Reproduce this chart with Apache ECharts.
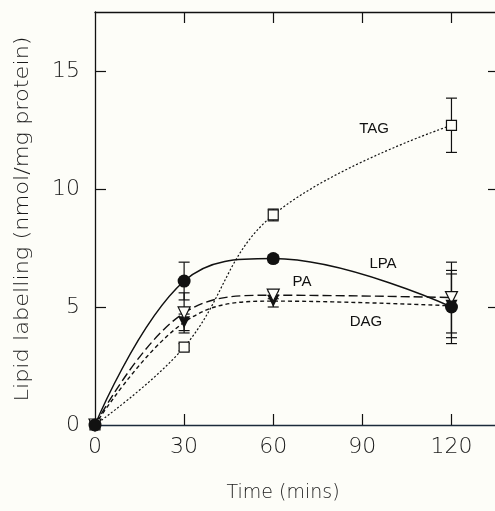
<!DOCTYPE html>
<html>
<head>
<meta charset="utf-8">
<script src="https://cdn.jsdelivr.net/npm/echarts@6/dist/echarts.min.js"></script>
<style>
  html, body { margin: 0; padding: 0; background: #fdfdf8; }
  #chart { width: 495px; height: 511px; }
</style>
</head>
<body>
<div id="chart"></div>
<script>
// Time course of lipid labelling (mean ± error) for four lipid classes
const times = [0, 30, 60, 120];
const lpa = [0, 6.1, 7.05, 5.0];
const lpaErr = [0, 0.8, 0.15, 1.55];
const pa = [0, 4.75, 5.5, 5.4];
const paErr = [0, 0.85, 0.15, 1.5];
const dag = [0, 4.35, 5.25, 5.05];
const dagErr = [0, 0.35, 0.25, 1.35];
const tag = [0, 3.3, 8.9, 12.7];
const tagErr = [0, 0.15, 0.25, 1.15];
const xTicks = [0, 30, 60, 90, 120];
const yTicks = [0, 5, 10, 15];

const FONT = 'DejaVu Sans';
const INK = '#111';
const PAPER = '#fdfdf8';

function pairs(ys) {
  return times.map((t, i) => [t, ys[i]]);
}
function errRows(ys, es) {
  return times.map((t, i) => [t, ys[i] - es[i], ys[i] + es[i]]).filter(r => r[2] > r[1]);
}

function renderErr(params, api) {
  const x = api.value(0);
  const lo = api.coord([x, api.value(1)]);
  const hi = api.coord([x, api.value(2)]);
  const w = 5.5;
  const style = { stroke: INK, lineWidth: 1.2 };
  return {
    type: 'group',
    children: [
      { type: 'line', shape: { x1: lo[0], y1: lo[1], x2: hi[0], y2: hi[1] }, style },
      { type: 'line', shape: { x1: lo[0] - w, y1: lo[1], x2: lo[0] + w, y2: lo[1] }, style },
      { type: 'line', shape: { x1: hi[0] - w, y1: hi[1], x2: hi[0] + w, y2: hi[1] }, style }
    ]
  };
}

function errSeries(ys, es) {
  return {
    type: 'custom',
    renderItem: renderErr,
    data: errRows(ys, es),
    encode: { x: 0, y: [1, 2] },
    z: 1,
    silent: true
  };
}

function lineSeries(name, ys, lineType, width, symbol, size, filled, rotate) {
  return {
    name,
    type: 'line',
    data: pairs(ys),
    smooth: 0.4,
    symbol,
    symbolSize: size,
    symbolRotate: rotate || 0,
    showAllSymbol: true,
    z: 3,
    lineStyle: { color: INK, width, type: lineType },
    itemStyle: {
      color: filled ? INK : PAPER,
      borderColor: INK,
      borderWidth: filled ? 0 : 1.2
    },
    emphasis: { disabled: true }
  };
}

const chart = echarts.init(document.getElementById('chart'), null, { renderer: 'canvas' });

const axisLineStyle = { color: INK, width: 1.3 };
const tickStyle = { color: INK, width: 1.2 };
const tickFont = { color: '#1a1a1a', fontFamily: FONT, fontSize: 22, fontWeight: 300 };

const labelFont = '15px "Liberation Sans"';

chart.setOption({
  backgroundColor: PAPER,
  animation: false,
  // the right-hand frame sits just past the canvas edge
  grid: { left: 95, top: 12, width: 404, height: 413, outerBoundsMode: 'none' },
  xAxis: [
    {
      type: 'value', min: 0, max: 136, position: 'bottom',
      axisLine: { show: true, onZero: false, lineStyle: { color: '#1b2a3a', width: 1.4 } },
      axisTick: { show: true, inside: true, length: 11, customValues: xTicks.slice(1), lineStyle: tickStyle },
      axisLabel: Object.assign({ customValues: xTicks, margin: 11 }, tickFont),
      splitLine: { show: false }
    },
    {
      type: 'value', min: 0, max: 136, position: 'top',
      axisLine: { show: true, onZero: false, lineStyle: axisLineStyle },
      axisTick: { show: true, inside: true, length: 11, customValues: xTicks.slice(1), lineStyle: tickStyle },
      axisLabel: { show: false },
      splitLine: { show: false }
    }
  ],
  yAxis: [
    {
      type: 'value', min: 0, max: 17.5, position: 'left',
      axisLine: { show: true, onZero: false, lineStyle: axisLineStyle },
      axisTick: { show: true, inside: true, length: 11, customValues: yTicks.slice(1), lineStyle: tickStyle },
      axisLabel: Object.assign({ customValues: yTicks, margin: 15 }, tickFont),
      splitLine: { show: false }
    },
    {
      type: 'value', min: 0, max: 17.5, position: 'right',
      axisLine: { show: true, onZero: false, lineStyle: axisLineStyle },
      axisTick: { show: true, inside: true, length: 11, customValues: yTicks.slice(1), lineStyle: tickStyle },
      axisLabel: { show: false },
      splitLine: { show: false }
    }
  ],
  series: [
    errSeries(tag, tagErr),
    errSeries(lpa, lpaErr),
    errSeries(pa, paErr),
    errSeries(dag, dagErr),
    lineSeries('TAG', tag, [2, 2], 1.2, 'rect', 10, false),
    lineSeries('DAG', dag, [4, 3], 1.4, 'triangle', 12, true, 180),
    lineSeries('PA', pa, [9, 4], 1.4, 'triangle', 12, false, 180),
    lineSeries('LPA', lpa, 'solid', 1.5, 'circle', 13, true)
  ],
  graphic: [
    { type: 'text', x: 374, y: 129, style: { text: 'TAG', font: labelFont, fill: INK, align: 'center', verticalAlign: 'middle' } },
    { type: 'text', x: 383, y: 264, style: { text: 'LPA', font: labelFont, fill: INK, align: 'center', verticalAlign: 'middle' } },
    { type: 'text', x: 302, y: 282, style: { text: 'PA', font: labelFont, fill: INK, align: 'center', verticalAlign: 'middle' } },
    { type: 'text', x: 366, y: 322, style: { text: 'DAG', font: labelFont, fill: INK, align: 'center', verticalAlign: 'middle' } },
    { type: 'text', x: 283, y: 493, style: { text: 'Time (mins)', font: '300 19px "DejaVu Sans"', fill: '#1a1a1a', align: 'center', verticalAlign: 'middle' } },
    { type: 'text', x: 23, y: 219, rotation: Math.PI / 2, scaleX: 1.18, style: { text: 'Lipid labelling (nmol/mg protein)', font: '300 19px "DejaVu Sans"', fill: '#1a1a1a', align: 'center', verticalAlign: 'middle' } }
  ]
});
</script>
</body>
</html>
